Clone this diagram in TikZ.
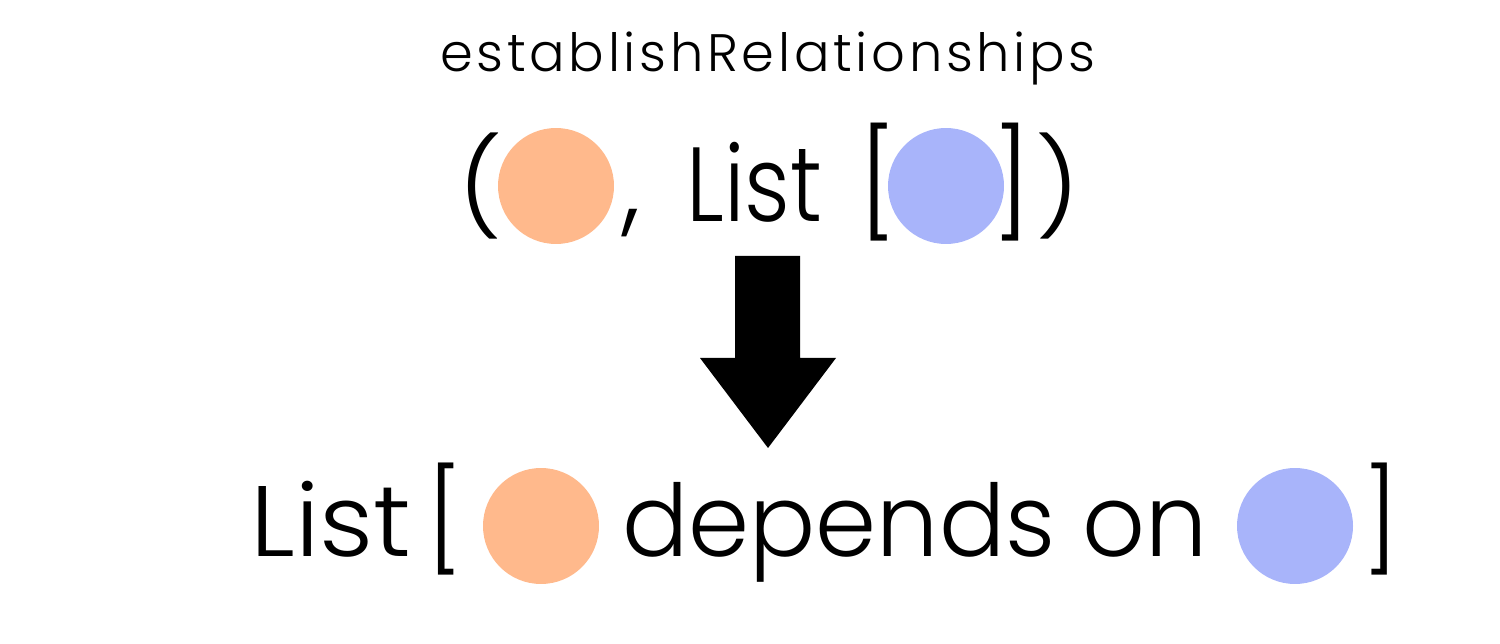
\documentclass[tikz,border=0pt]{standalone}
\usepackage{fontspec}
\setmainfont{Poppins Light}
\newfontfamily\titlefont[LetterSpace=7]{Poppins Light}
\definecolor{peach}{HTML}{FFB98C}
\definecolor{lavender}{HTML}{A8B4FA}
\begin{document}
\begin{tikzpicture}[x=0.02cm,y=-0.02cm,
  ball/.style={circle,inner sep=0pt,minimum size=2.32cm},
  big/.style={inner sep=0pt,font=\fontsize{60}{70}\selectfont},
  mid/.style={inner sep=0pt,font=\fontsize{57}{66}\selectfont},
  small/.style={inner sep=0pt,font=\titlefont\fontsize{30}{36}\selectfont}]
\useasboundingbox (0,0) rectangle (1500,644);
% title
\node[small,anchor=base] (title) at (768,72) {establishRelationships};
% row 2
\node[big,anchor=base west] (lp) at (458,222) {\scalebox{1}[0.9]{(}};
\node[ball,fill=peach] (o1) at (556,186) {};
\node[big,anchor=base west] (cm) at (622,222) {,};
\node[big,anchor=base west] (list1) at (686,222) {\scalebox{0.85}[1]{List}};
\node[big,anchor=base west] (lb1) at (858,222) {[};
\node[ball,fill=lavender] (b1) at (946,186) {};
\node[big,anchor=base east] (rb1) at (1032,222) {]};
\node[big,anchor=base east] (rp) at (1080,222) {\scalebox{1}[0.9]{)}};
% arrow
\fill (735,256) -- (800,256) -- (800,358) -- (836,358) -- (768,448) -- (700,358) -- (735,358) -- cycle;
% row 3
\node[mid,anchor=base west] (list2) at (250,557) {\scalebox{1.06}[1]{List}};
\node[mid,anchor=base west] (lb2) at (426,557) {[};
\node[ball,fill=peach] (o2) at (541,526) {};
\node[mid,anchor=base west] (dep) at (622,557) {\scalebox{0.98}[1]{depends on}};
\node[ball,fill=lavender] (b2) at (1295,526) {};
\node[mid,anchor=base east] (rb2) at (1400,557) {]};
\end{tikzpicture}
\end{document}
